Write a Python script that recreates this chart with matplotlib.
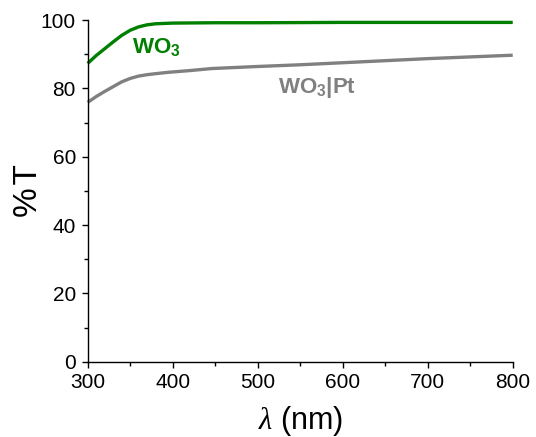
import matplotlib
matplotlib.use("Agg")
import matplotlib.pyplot as plt
from matplotlib.ticker import MultipleLocator

plt.rcParams['font.family'] = ['Liberation Sans', 'DejaVu Sans']
plt.rcParams['mathtext.fontset'] = 'custom'
plt.rcParams['mathtext.rm'] = 'Liberation Sans'
plt.rcParams['mathtext.it'] = 'Liberation Serif:italic'
plt.rcParams['mathtext.bf'] = 'Liberation Sans:bold'

# wavelength (nm) and transmittance (%)
wl_wo3 = [300, 310, 320, 330, 340, 350, 360, 370, 380, 400, 450, 500, 600, 700, 800]
t_wo3 = [87.3, 89.6, 91.6, 93.6, 95.5, 97.0, 98.0, 98.6, 98.9, 99.1, 99.2, 99.2, 99.3, 99.3, 99.3]

wl_pt = [300, 310, 320, 330, 340, 350, 360, 370, 380, 395, 420, 446, 500, 550, 600, 650, 700, 750, 800]
t_pt = [75.9, 77.6, 79.1, 80.5, 81.9, 82.9, 83.6, 84.0, 84.3, 84.7, 85.2, 85.8, 86.4, 86.9, 87.5, 88.1, 88.7, 89.2, 89.7]

fig = plt.figure(figsize=(5.36, 4.37), dpi=100)
ax = fig.add_axes([0.1636, 0.1723, 0.793, 0.7819])

ax.plot(wl_wo3, t_wo3, color='#007F00', lw=2.4, clip_on=False, solid_capstyle='butt')
ax.plot(wl_pt, t_pt, color='#808080', lw=2.4, clip_on=False, solid_capstyle='butt')

ax.text(352, 90.3, r'$\mathbf{WO_3}$', color='#007F00', fontsize=16, ha='left', va='baseline')
ax.text(524, 78.6, r'$\mathbf{WO_3|Pt}$', color='#808080', fontsize=16, ha='left', va='baseline')

ax.set_xlim(300, 800)
ax.set_ylim(0, 100)
ax.xaxis.set_major_locator(MultipleLocator(100))
ax.xaxis.set_minor_locator(MultipleLocator(50))
ax.yaxis.set_major_locator(MultipleLocator(20))
ax.yaxis.set_minor_locator(MultipleLocator(10))

for s in ['top', 'right']:
    ax.spines[s].set_visible(False)
for s in ['left', 'bottom']:
    ax.spines[s].set_linewidth(1.0)

ax.tick_params(which='major', direction='out', length=4.5, width=1, labelsize=15)
ax.tick_params(axis='x', which='major', pad=3.5)
ax.tick_params(axis='y', which='major', pad=4)
ax.tick_params(which='minor', direction='out', length=3, width=1)

ax.set_xlabel(r'$\lambda$ (nm)', fontsize=22)
ax.set_ylabel('%\u200aT', fontsize=24)
ax.xaxis.set_label_coords(0.5, -0.123)
ax.yaxis.set_label_coords(-0.103, 0.5)

fig.savefig('out.png', dpi=100)
